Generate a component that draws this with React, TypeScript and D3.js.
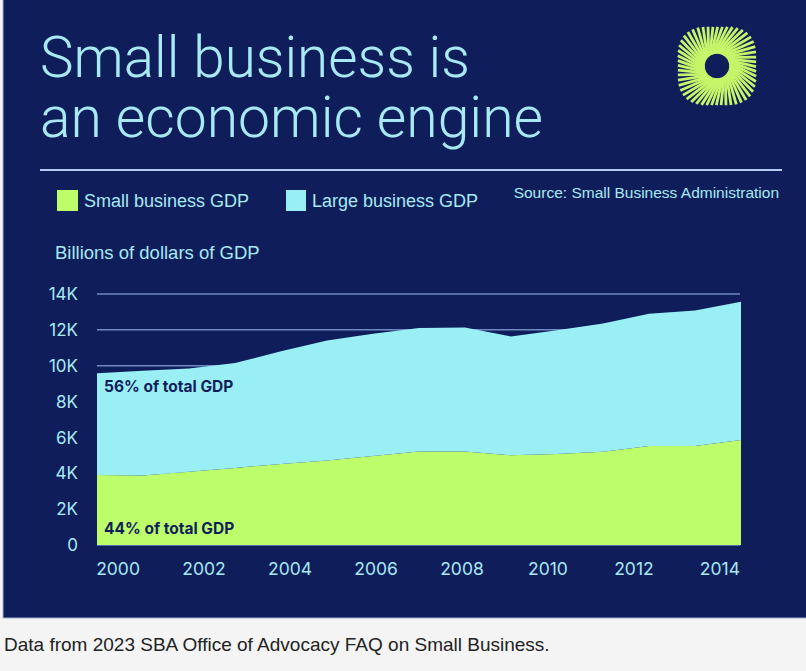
import React from "react";
import * as d3 from "d3";

const years = [2000, 2001, 2002, 2003, 2004, 2005, 2006, 2007, 2008, 2009, 2010, 2011, 2012, 2013, 2014];
const smallGdp = [3900, 3880, 4080, 4300, 4520, 4720, 4960, 5220, 5220, 5000, 5080, 5200, 5520, 5520, 5850];
const largeGdp = [5680, 5840, 5770, 5850, 6280, 6680, 6820, 6880, 6910, 6630, 6900, 7150, 7380, 7560, 7720];
const seriesNames = ["Small business GDP", "Large business GDP"];
const yTicks = [0, 2000, 4000, 6000, 8000, 10000, 12000, 14000];
const xTickLabels = ["2000", "2002", "2004", "2006", "2008", "2010", "2012", "2014"];
const shareLabels = ["56% of total GDP", "44% of total GDP"];
const titleLines = ["Small business is", "an economic engine"];

const W = 806;
const H = 671;
const NAVY = "#0f1e5b";
const CYAN = "#9aeff5";
const GREEN = "#bdfc6a";
const TEXT = "#a8e9f4";
const SANS = "'Liberation Sans', Arial, sans-serif";
const GEO = "Inter, 'Noto Sans', sans-serif";

export default function App() {
  const x = d3.scaleLinear().domain([2000, 2014]).range([97, 741]);
  const y = d3.scaleLinear().domain([0, 14000]).range([545, 294]);
  const xLab = d3.scalePoint<string>().domain(xTickLabels).range([97, 741]).padding(0.245);

  const table = years.map((yr, i) => ({ year: yr, small: smallGdp[i], large: largeGdp[i] }));
  const stack = d3.stack<any>().keys(["small", "large"])(table);
  const area = d3
    .area<any>()
    .x((d) => x(d.data.year))
    .y0((d) => y(d[0]))
    .y1((d) => y(d[1]));
  const colors = [GREEN, CYAN];

  // logo burst
  const cx = 717, cy = 66;
  const N = 52;
  const rays = d3.range(N).map((i) => {
    const a0 = (i * 2 * Math.PI) / N;
    const a1 = a0 + 0.5;
    const rOut = 42 * (1 - 0.07 * Math.cos(4 * a1));
    return {
      x1: cx + 12.5 * Math.cos(a0),
      y1: cy + 12.5 * Math.sin(a0),
      x2: cx + rOut * Math.cos(a1),
      y2: cy + rOut * Math.sin(a1),
    };
  });

  return (
    <div style={{ position: "absolute", left: 0, top: 0 }}>
      <svg width={W} height={H} viewBox={`0 0 ${W} ${H}`} style={{ display: "block" }}>
        <rect x={0} y={0} width={W} height={H} fill="#f4f4f4" />
        <rect x={3} y={-2} width={W} height={620} fill={NAVY} stroke="#9fb0d6" strokeWidth={1} />

        {/* title */}
        <text fill={TEXT} fontFamily="Roboto, sans-serif" fontWeight={300} fontSize={57}>
          <tspan x={40} y={77} textLength={430} lengthAdjust="spacingAndGlyphs">{titleLines[0]}</tspan>
          <tspan x={40} y={137} textLength={503} lengthAdjust="spacingAndGlyphs">{titleLines[1]}</tspan>
        </text>

        {/* logo */}
        <g>
          {rays.map((r, i) => (
            <line key={i} x1={r.x1} y1={r.y1} x2={r.x2} y2={r.y2} stroke="#c6f56a" strokeWidth={2.8} />
          ))}
          <circle cx={cx} cy={cy} r={12} fill={NAVY} />
        </g>

        <line x1={40} x2={782} y1={170} y2={170} stroke="#b3cbef" strokeWidth={2} />

        {/* legend */}
        <rect x={57} y={190} width={21} height={21} fill={GREEN} />
        <text x={84} y={207} fill={TEXT} fontFamily={SANS} fontSize={18}>{seriesNames[0]}</text>
        <rect x={286} y={190} width={20} height={21} fill={CYAN} />
        <text x={312} y={207} fill={TEXT} fontFamily={SANS} fontSize={18}>{seriesNames[1]}</text>
        <text x={779} y={198} textAnchor="end" fill={TEXT} fontFamily={SANS} fontSize={15.5}>
          Source: Small Business Administration
        </text>
        <text x={55} y={259} fill={TEXT} fontFamily={SANS} fontSize={18.5}>Billions of dollars of GDP</text>

        {/* grid */}
        {yTicks.map((t) => (
          <line key={t} x1={x(2000)} x2={x(2014) - 1} y1={y(t)} y2={y(t)} stroke="#6d8ac0" strokeWidth={1.5} />
        ))}

        {/* areas */}
        {stack.map((s, i) => (
          <path key={i} d={area(s) || ""} fill={colors[i]} />
        ))}

        {/* y labels */}
        {yTicks.map((t) => (
          <text key={t} x={78} y={y(t)} dy="0.36em" textAnchor="end" fill={TEXT} fontFamily={GEO} fontSize={17}>
            {t === 0 ? "0" : `${t / 1000}K`}
          </text>
        ))}

        {/* x labels */}
        {xTickLabels.map((l) => (
          <text key={l} x={xLab(l)} y={575} textAnchor="middle" fill={TEXT} fontFamily={GEO} fontSize={17.5}>
            {l}
          </text>
        ))}

        {/* annotations */}
        <text x={104} y={392} fill={NAVY} fontFamily={GEO} fontWeight={700} fontSize={15.5}>{shareLabels[0]}</text>
        <text x={104} y={534} fill={NAVY} fontFamily={GEO} fontWeight={700} fontSize={15.5}>{shareLabels[1]}</text>

        {/* caption */}
        <text x={4} y={651} fill="#222" fontFamily={SANS} fontSize={19}>
          Data from 2023 SBA Office of Advocacy FAQ on Small Business.
        </text>
      </svg>
    </div>
  );
}
